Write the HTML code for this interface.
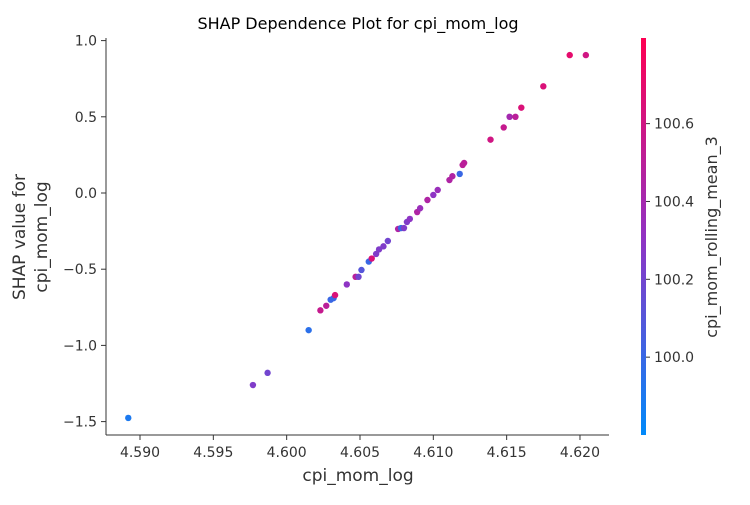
<!DOCTYPE html>
<html><head><meta charset="utf-8"><style>
body{margin:0;background:#fff;font-family:"Liberation Sans","DejaVu Sans",sans-serif}
svg text{font-family:"DejaVu Sans","Liberation Sans",sans-serif;fill:#333}
</style></head><body>
<svg id="chart" width="750" height="500" xmlns="http://www.w3.org/2000/svg">
<defs><linearGradient id="cg" x1="0" y1="1" x2="0" y2="0">
<stop offset="0" stop-color="rgb(0,138,250)"/><stop offset="0.5" stop-color="rgb(145,50,195)"/><stop offset="1" stop-color="rgb(255,0,82)"/></linearGradient></defs>
<text x="358" y="29" text-anchor="middle" font-size="16" style="fill:#000">SHAP Dependence Plot for cpi_mom_log</text>
<g id="plot"></g>
<rect x="641" y="38" width="5" height="397" fill="url(#cg)"/>
<text transform="translate(717,237) rotate(-90)" text-anchor="middle" font-size="16">cpi_mom_rolling_mean_3</text>
<text x="358" y="481" text-anchor="middle" font-size="17">cpi_mom_log</text>
<text transform="translate(35,237) rotate(-90)" text-anchor="middle" font-size="17"><tspan x="0" dy="-10">SHAP value for</tspan><tspan x="0" dy="22">cpi_mom_log</tspan></text>
</svg>
<script>
const xs=[4.5892,4.5977,4.5987,4.6015,4.6023,4.6027,4.6030,4.6032,4.6033,4.6041,4.6047,4.6049,4.6051,4.6056,4.6058,4.6061,4.6063,4.6066,4.6069,4.6076,4.6078,4.6080,4.6082,4.6084,4.6089,4.6091,4.6096,4.6100,4.6103,4.6111,4.6113,4.6118,4.6121,4.6120,4.6139,4.6148,4.6152,4.6156,4.6160,4.6175,4.6193,4.6204];
const ys=[-1.476,-1.26,-1.18,-0.90,-0.77,-0.74,-0.70,-0.69,-0.67,-0.60,-0.55,-0.55,-0.505,-0.45,-0.43,-0.40,-0.37,-0.35,-0.315,-0.236,-0.23,-0.23,-0.19,-0.17,-0.125,-0.10,-0.046,-0.013,0.02,0.085,0.11,0.125,0.197,0.184,0.35,0.43,0.50,0.50,0.56,0.70,0.905,0.905];
const cs=[99.9,100.25,100.2,99.95,100.55,100.5,100.0,100.0,100.65,100.3,100.5,100.2,100.1,100.0,100.65,100.25,100.25,100.25,100.2,100.45,100.0,100.25,100.25,100.3,100.45,100.35,100.45,100.3,100.35,100.45,100.45,100.0,100.5,100.5,100.6,100.55,100.4,100.5,100.65,100.65,100.7,100.6];
const xTicks=[4.590,4.595,4.600,4.605,4.610,4.615,4.620];
const yTicks=[1.0,0.5,0.0,-0.5,-1.0,-1.5];
const cTicks=[100.0,100.2,100.4,100.6];
const X=v=>140+(v-4.590)/0.005*73.33;
const Y=v=>193-v/0.5*76.2;
const CMIN=99.80,CMAX=100.82;
const C=v=>435-(v-CMIN)/(CMAX-CMIN)*397;
function col(v){let t=Math.max(0,Math.min(1,(v-CMIN)/(CMAX-CMIN)));const a=[0,138,250],b=[145,50,195],c=[255,0,82];let p,q,s;if(t<0.5){p=a;q=b;s=t/0.5}else{p=b;q=c;s=(t-0.5)/0.5}return`rgb(${p.map((x,i)=>Math.round(x+(q[i]-x)*s)).join(',')})`;}
const NS="http://www.w3.org/2000/svg",g=document.getElementById('plot');
function mk(t,a,txt){const e=document.createElementNS(NS,t);for(const k in a)e.setAttribute(k,a[k]);if(txt!=null)e.textContent=txt;g.appendChild(e);return e;}
let e=mk('line',{x1:106,y1:38,x2:106,y2:435,stroke:'#333','stroke-width':1});


e=mk('line',{x1:106,y1:435,x2:609,y2:435,stroke:'#333','stroke-width':1});


xTicks.forEach(v=>{const x=X(v);mk('line',{x1:x,y1:435,x2:x,y2:440,stroke:'#333'});
e=mk('text',{x:x,y:457,'text-anchor':'middle','font-size':14},v.toFixed(3));

});
yTicks.forEach(v=>{const y=Y(v);mk('line',{x1:101,y1:y,x2:106,y2:y,stroke:'#333'});
e=mk('text',{x:97,y:y+5,'text-anchor':'end','font-size':14},v.toFixed(1).replace('-','\u2212'));

});
cTicks.forEach(v=>{const y=C(v);mk('line',{x1:646,y1:y,x2:650,y2:y,stroke:'#333'});
e=mk('text',{x:654,y:y+5,'font-size':14},v.toFixed(1));

});
xs.forEach((v,i)=>{e=mk('circle',{cx:X(v),cy:Y(ys[i]),r:3.2,fill:col(cs[i])});

});
</script>
</body></html>
